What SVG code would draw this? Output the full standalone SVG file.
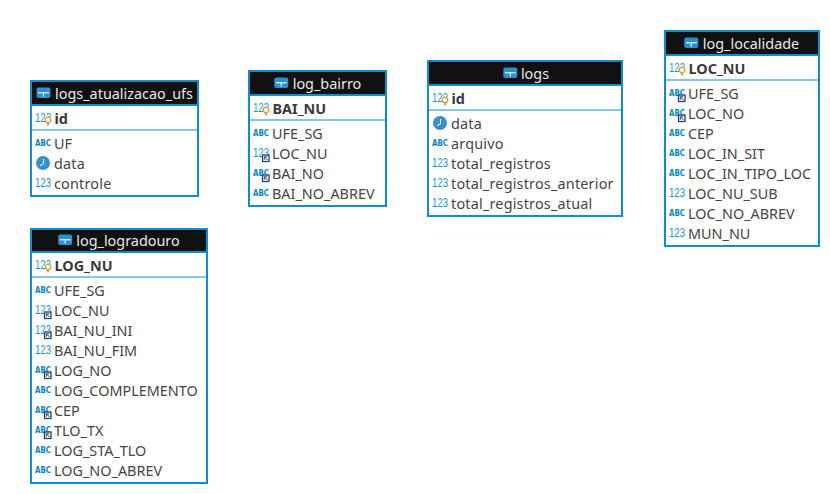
<svg xmlns="http://www.w3.org/2000/svg" width="830" height="494" viewBox="0 0 830 494">
<style>
text{font-family:"Noto Sans","Open Sans","DejaVu Sans",sans-serif}
.box{fill:#fff;stroke:#0f8fc9;stroke-width:2}
.head{fill:#111}
.sep{stroke:#0f8fc9;stroke-width:1.2}
.hl{stroke:#0f8fc9;stroke-width:2}
.t{font-size:14.4px;fill:#e8e8e8;text-anchor:middle}
.c{font-size:14.4px;fill:#454545}
.l{letter-spacing:.2px}
.k{font-size:14.4px;fill:#3a3a3a;font-weight:700}
text.n{font-size:12.5px;fill:#1b96d2;font-family:"Liberation Sans",sans-serif}
text.a{font-size:9px;fill:#0a85c6;font-weight:700;font-family:"DejaVu Sans",sans-serif}
</style>
<defs>
<g id="tbl"><rect x="0" y="0" width="14" height="10.5" rx="2" fill="#2a90d0"/><rect x="1.5" y="4.6" width="11" height="1.3" fill="#dbeefa"/><rect x="6.4" y="4.6" width="1.2" height="4.6" fill="#dbeefa"/></g>
<g id="key"><circle cx="0" cy="0" r="2.8" fill="#fff" stroke="#e8962e" stroke-width="1.3"/><rect x="-1" y="2.8" width="2" height="2.6" fill="#c9a068"/></g>
<g id="clk"><circle cx="7" cy="7" r="7" fill="#3a8fcd"/><path d="M7.5 3v4.8L4 9.6" fill="none" stroke="#fff" stroke-width="1"/></g>
<g id="fk"><rect x="0" y="0" width="6.5" height="6.5" fill="#fff" stroke="#26406a" stroke-width="1.3"/><path d="M1.8 1.8h3M1.8 1.8v3M1.8 1.8L5 5" fill="none" stroke="#26406a" stroke-width="1"/></g>
</defs>

<g id="logs_atualizacao_ufs">
<rect class="box" x="31" y="81" width="167" height="115"/>
<rect class="head" x="32" y="82" width="165" height="23"/><line class="hl" x1="32" y1="105" x2="197" y2="105"/><line class="sep" x1="32" y1="130" x2="197" y2="130"/>
<use href="#tbl" x="36.5" y="87.5"/>
<text class="t" x="124" y="99">logs_atualizacao_ufs</text>
<text class="n" x="35" y="122" textLength="16" lengthAdjust="spacingAndGlyphs">123</text><use href="#key" x="48" y="120"/><text class="k" x="54.5" y="124">id</text>
<text class="a" x="35" y="146" textLength="16" lengthAdjust="spacingAndGlyphs">ABC</text><text class="c" x="54" y="149">UF</text>
<use href="#clk" x="36" y="156"/><text class="c l" x="54" y="169">data</text>
<text class="n" x="35" y="187" textLength="16" lengthAdjust="spacingAndGlyphs">123</text><text class="c l" x="54" y="189">controle</text>
</g>

<g id="log_logradouro">
<rect class="box" x="31" y="229" width="176" height="254"/>
<rect class="head" x="32" y="230" width="174" height="22"/><line class="hl" x1="32" y1="252" x2="206" y2="252"/><line class="sep" x1="32" y1="277" x2="206" y2="277"/>
<use href="#tbl" x="58.2" y="234.5"/>
<text class="t" x="128" y="246">log_logradouro</text>
<text class="n" x="35" y="269" textLength="16" lengthAdjust="spacingAndGlyphs">123</text><use href="#key" x="48" y="267"/><text class="k" x="54.5" y="271">LOG_NU</text>
<text class="a" x="35" y="293" textLength="16" lengthAdjust="spacingAndGlyphs">ABC</text><text class="c" x="54" y="296">UFE_SG</text>
<text class="n" x="35" y="314" textLength="16" lengthAdjust="spacingAndGlyphs">123</text><use href="#fk" x="44.5" y="312"/><text class="c" x="54" y="316">LOC_NU</text>
<text class="n" x="35" y="334" textLength="16" lengthAdjust="spacingAndGlyphs">123</text><use href="#fk" x="44.5" y="332"/><text class="c" x="54" y="336">BAI_NU_INI</text>
<text class="n" x="35" y="354" textLength="16" lengthAdjust="spacingAndGlyphs">123</text><text class="c" x="54" y="356">BAI_NU_FIM</text>
<text class="a" x="35" y="373" textLength="16" lengthAdjust="spacingAndGlyphs">ABC</text><use href="#fk" x="44.5" y="372"/><text class="c" x="54" y="376">LOG_NO</text>
<text class="a" x="35" y="393" textLength="16" lengthAdjust="spacingAndGlyphs">ABC</text><text class="c" x="54" y="396">LOG_COMPLEMENTO</text>
<text class="a" x="35" y="413" textLength="16" lengthAdjust="spacingAndGlyphs">ABC</text><use href="#fk" x="44.5" y="412"/><text class="c" x="54" y="416">CEP</text>
<text class="a" x="35" y="433" textLength="16" lengthAdjust="spacingAndGlyphs">ABC</text><use href="#fk" x="44.5" y="432"/><text class="c" x="54" y="436">TLO_TX</text>
<text class="a" x="35" y="453" textLength="16" lengthAdjust="spacingAndGlyphs">ABC</text><text class="c" x="54" y="456">LOG_STA_TLO</text>
<text class="a" x="35" y="473" textLength="16" lengthAdjust="spacingAndGlyphs">ABC</text><text class="c" x="54" y="476">LOG_NO_ABREV</text>
</g>

<g id="log_bairro">
<rect class="box" x="249" y="71" width="137" height="135"/>
<rect class="head" x="250" y="72" width="135" height="23"/><line class="hl" x1="250" y1="95" x2="385" y2="95"/><line class="sep" x1="250" y1="120" x2="385" y2="120"/>
<use href="#tbl" x="274.3" y="77.5"/>
<text class="t" x="327" y="89">log_bairro</text>
<text class="n" x="253" y="112" textLength="16" lengthAdjust="spacingAndGlyphs">123</text><use href="#key" x="266" y="110"/><text class="k" x="272.5" y="114">BAI_NU</text>
<text class="a" x="253" y="136" textLength="16" lengthAdjust="spacingAndGlyphs">ABC</text><text class="c" x="272" y="139">UFE_SG</text>
<text class="n" x="253" y="157" textLength="16" lengthAdjust="spacingAndGlyphs">123</text><use href="#fk" x="262.5" y="155"/><text class="c" x="272" y="159">LOC_NU</text>
<text class="a" x="253" y="176" textLength="16" lengthAdjust="spacingAndGlyphs">ABC</text><use href="#fk" x="262.5" y="175"/><text class="c" x="272" y="179">BAI_NO</text>
<text class="a" x="253" y="196" textLength="16" lengthAdjust="spacingAndGlyphs">ABC</text><text class="c" x="272" y="199">BAI_NO_ABREV</text>
</g>

<g id="logs">
<rect class="box" x="428" y="61" width="194" height="155"/>
<rect class="head" x="429" y="62" width="192" height="23"/><line class="hl" x1="429" y1="85" x2="621" y2="85"/><line class="sep" x1="429" y1="110" x2="621" y2="110"/>
<use href="#tbl" x="503.3" y="67.5"/>
<text class="t" x="535" y="79">logs</text>
<text class="n" x="432" y="102" textLength="16" lengthAdjust="spacingAndGlyphs">123</text><use href="#key" x="445" y="100"/><text class="k" x="451.5" y="104">id</text>
<use href="#clk" x="433" y="116"/><text class="c l" x="451" y="129">data</text>
<text class="a" x="432" y="146" textLength="16" lengthAdjust="spacingAndGlyphs">ABC</text><text class="c l" x="451" y="149">arquivo</text>
<text class="n" x="432" y="167" textLength="16" lengthAdjust="spacingAndGlyphs">123</text><text class="c l" x="451" y="169">total_registros</text>
<text class="n" x="432" y="187" textLength="16" lengthAdjust="spacingAndGlyphs">123</text><text class="c l" x="451" y="189">total_registros_anterior</text>
<text class="n" x="432" y="207" textLength="16" lengthAdjust="spacingAndGlyphs">123</text><text class="c l" x="451" y="209">total_registros_atual</text>
</g>

<g id="log_localidade">
<rect class="box" x="665" y="31" width="154" height="215"/>
<rect class="head" x="666" y="32" width="152" height="23"/><line class="hl" x1="666" y1="55" x2="818" y2="55"/><line class="sep" x1="666" y1="80" x2="818" y2="80"/>
<use href="#tbl" x="684.3" y="37.5"/>
<text class="t" x="751" y="49">log_localidade</text>
<text class="n" x="669" y="72" textLength="16" lengthAdjust="spacingAndGlyphs">123</text><use href="#key" x="682" y="70"/><text class="k" x="688.5" y="74">LOC_NU</text>
<text class="a" x="669" y="96" textLength="16" lengthAdjust="spacingAndGlyphs">ABC</text><use href="#fk" x="678.5" y="95"/><text class="c" x="688" y="99">UFE_SG</text>
<text class="a" x="669" y="116" textLength="16" lengthAdjust="spacingAndGlyphs">ABC</text><use href="#fk" x="678.5" y="115"/><text class="c" x="688" y="119">LOC_NO</text>
<text class="a" x="669" y="136" textLength="16" lengthAdjust="spacingAndGlyphs">ABC</text><text class="c" x="688" y="139">CEP</text>
<text class="a" x="669" y="156" textLength="16" lengthAdjust="spacingAndGlyphs">ABC</text><text class="c" x="688" y="159">LOC_IN_SIT</text>
<text class="a" x="669" y="176" textLength="16" lengthAdjust="spacingAndGlyphs">ABC</text><text class="c" x="688" y="179">LOC_IN_TIPO_LOC</text>
<text class="n" x="669" y="197" textLength="16" lengthAdjust="spacingAndGlyphs">123</text><text class="c" x="688" y="199">LOC_NU_SUB</text>
<text class="a" x="669" y="216" textLength="16" lengthAdjust="spacingAndGlyphs">ABC</text><text class="c" x="688" y="219">LOC_NO_ABREV</text>
<text class="n" x="669" y="237" textLength="16" lengthAdjust="spacingAndGlyphs">123</text><text class="c" x="688" y="239">MUN_NU</text>
</g>
<g id="connectors"/>
</svg>
